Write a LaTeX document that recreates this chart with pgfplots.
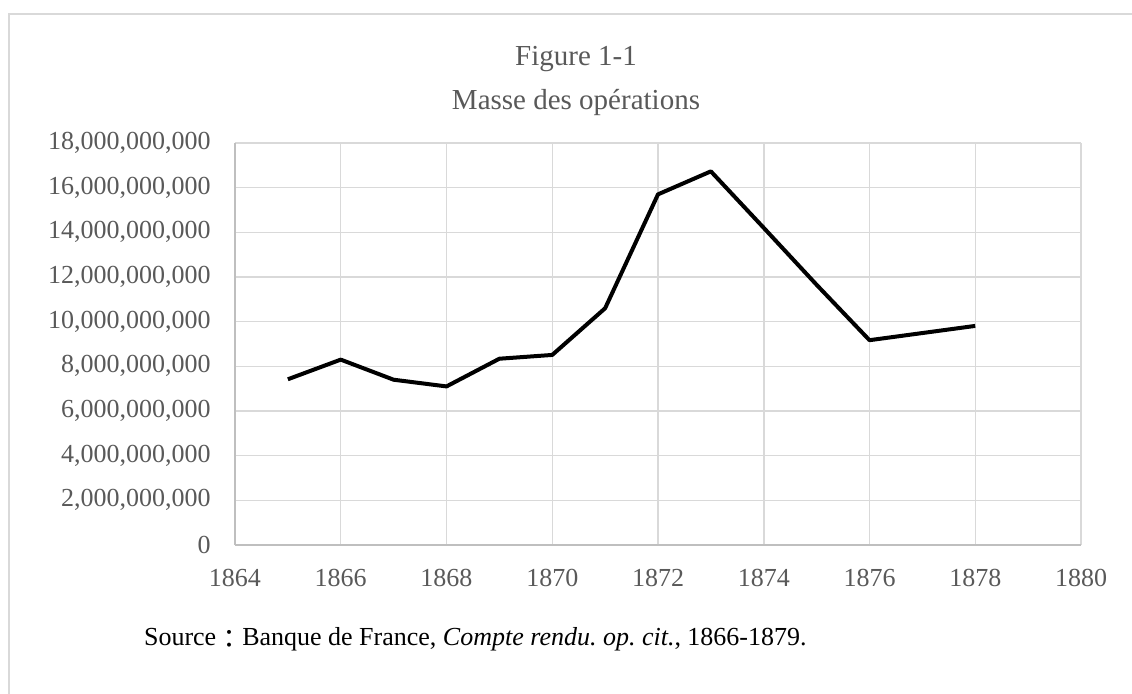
\documentclass[border=0pt]{standalone}
\usepackage{fontspec}
\setmainfont{Liberation Serif}
\newfontfamily\cjk{Noto Sans CJK JP}
\usepackage{pgfplots}
\pgfplotsset{compat=1.18}
\definecolor{gridgray}{HTML}{D9D9D9}
\definecolor{axisgray}{HTML}{BFBFBF}
\definecolor{textgray}{HTML}{595959}

\pgfplotstableread{
year value
1865 7420000000
1866 8300000000
1867 7400000000
1868 7100000000
1869 8340000000
1870 8510000000
1871 10600000000
1872 15700000000
1873 16730000000
1874 14200000000
1875 11650000000
1876 9170000000
1877 9490000000
1878 9810000000
}\masse

\begin{document}
\frenchspacing
\begin{tikzpicture}
% page size: 1132 x 694 px at 0.5pt per px
\path[use as bounding box] (0,0) rectangle (566pt,347pt);
\draw[gridgray, line width=0.75pt] (4.5pt,0) -- (4.5pt,340pt) -- (566pt,340pt);

\node[anchor=base, font=\fontsize{14.5}{17}\selectfont, text=textgray] at (288pt,314pt) {Figure 1-1};
\node[anchor=base, font=\fontsize{14.5}{17}\selectfont, text=textgray] at (288pt,292pt) {Masse des opérations};

\begin{axis}[
    at={(117.5pt,74.5pt)}, anchor=south west,
    scale only axis,
    width=423pt, height=201pt,
    xmin=1864, xmax=1880,
    ymin=0, ymax=18000000000,
    xtick={1864,1866,...,1880},
    ytick={0,2000000000,...,18000000000},
    axis x line*=bottom, axis y line*=left,
    axis line style={axisgray, line width=0.75pt, -},
    grid=major,
    major grid style={gridgray, line width=0.75pt},
    major tick length=0pt,
    tick label style={font=\fontsize{13}{15}\selectfont, text=textgray, inner sep=0pt},
    /pgf/number format/assume math mode=true,
    xticklabel style={/pgf/number format/1000 sep={}},
    yticklabel style={/pgf/number format/fixed, /pgf/number format/precision=0,
        /pgf/number format/1000 sep={,}},
    xticklabel shift=12pt,
    yticklabel shift=12pt,
    scaled y ticks=false,
    clip=false,
]
\addplot[black, line width=2pt, line join=round] table[x=year, y=value] {\masse};
\end{axis}

\node[anchor=base west, font=\fontsize{13}{15}\selectfont] at (68.5pt,24pt)
    {Source\raisebox{-1.2pt}{\cjk ：}Banque de France, \textit{Compte rendu. op. cit.}, 1866-1879.};
\end{tikzpicture}
\end{document}
